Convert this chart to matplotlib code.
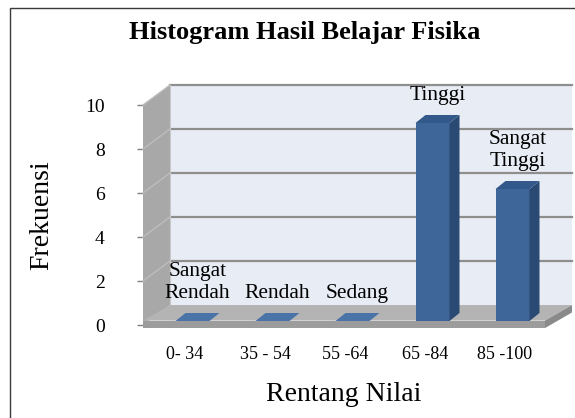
import numpy as np
import matplotlib
matplotlib.use('Agg')
import matplotlib.pyplot as plt
from matplotlib.patches import Polygon, Rectangle

categories = ['0- 34', '35 - 54', '55 -64', '65 -84', '85 -100']
frekuensi = [0, 0, 0, 9, 6]
kategori = ['Sangat\nRendah', 'Rendah', 'Sedang', 'Tinggi', 'Sangat\nTinggi']
yticks = [0, 2, 4, 6, 8, 10]

plt.rcParams['font.family'] = ['Liberation Serif', 'DejaVu Serif']

W, H = 575, 418
fig = plt.figure(figsize=(W/100., H/100.), dpi=100)
fig.patch.set_facecolor('white')

# front plane of the 3d box, in pixels
x0px, x1px, y0px, y1px = 143., 545., 325., 105.
ax = fig.add_axes([x0px/W, 1-y0px/H, (x1px-x0px)/W, (y0px-y1px)/H])
xl, xr = -0.525, 4.5
ymax = 10
ax.set_xlim(xl, xr); ax.set_ylim(0, ymax)
ax.patch.set_visible(False)
for s in ax.spines.values():
    s.set_visible(False)

pxx = (x1px-x0px)/(xr-xl)   # px per category
pxy = (y0px-y1px)/ymax      # px per unit
DX, DY = 27/pxx, 20/pxy     # wall depth
bdx0, bdy0 = 7.5/pxx, 4/pxy # bar front plane offset
bdx, bdy = 10/pxx, 8/pxy    # bar depth
bw = 34/pxx

def poly(pts, fc, z, ec='none', lw=0):
    ax.add_patch(Polygon(pts, closed=True, fc=fc, ec=ec, lw=lw, zorder=z, clip_on=False))

# back wall + grid
poly([(xl+DX, DY), (xr+DX, DY), (xr+DX, ymax+DY), (xl+DX, ymax+DY)], '#E8ECF5', 1)
for y in yticks[1:]:
    ax.plot([xl+DX, xr+DX], [y+DY, y+DY], color='#8E8E8E', lw=1.6, zorder=2, clip_on=False)
# side wall + grid
poly([(xl, 0), (xl, ymax), (xl+DX, ymax+DY), (xl+DX, DY)], '#A8A8A8', 3)
for y in yticks[1:]:
    ax.plot([xl, xl+DX], [y, y+DY], color='#BDBDBD', lw=1.0, zorder=4, clip_on=False)
ax.plot([xl+DX, xl+DX], [DY, ymax+DY], color='#C8C8C8', lw=0.8, zorder=4, clip_on=False)
# floor
ft, fb = 0.2, -0.14
poly([(xl, ft), (xr, ft), (xr+DX, DY), (xl+DX, DY)], '#B4B4B4', 5)
poly([(xl, fb), (xr, fb), (xr, ft), (xl, ft)], '#9C9C9C', 5)
poly([(xr, fb), (xr+DX, DY-(ft-fb)), (xr+DX, DY), (xr, ft)], '#8A8A8A', 5)

# bars
for i, v in enumerate(frekuensi):
    cx = i + bdx0
    b = bdy0
    left, right = cx-bw/2, cx+bw/2
    if v > 0:
        poly([(left, b), (right, b), (right, b+v), (left, b+v)], '#3E6699', 6)
        poly([(right, b), (right+bdx, b+bdy), (right+bdx, b+v+bdy), (right, b+v)], '#2A4A73', 6)
    poly([(left, b+v), (right, b+v), (right+bdx, b+v+bdy), (left+bdx, b+v+bdy)], '#33598A' if v > 0 else '#4A74A8', 7)
    ax.annotate(kategori[i], xy=(cx+bdx/2, b+v), xytext=(0, 13), textcoords='offset points',
                ha='center', va='bottom', fontsize=15.5, zorder=8, annotation_clip=False)

ax.set_yticks(yticks)
ax.set_xticks(range(len(categories)))
ax.set_xticklabels(categories)
ax.tick_params(axis='y', length=4.5, width=1, color='#808080', pad=23, labelsize=14)
ax.tick_params(axis='x', length=0, pad=15, labelsize=13)
ax.set_xlabel('Rentang Nilai', fontsize=20, labelpad=14)
ax.set_ylabel('Frekuensi', fontsize=20, labelpad=22)

fig.text(305/W, 1-33/H, 'Histogram Hasil Belajar Fisika', fontsize=19, fontweight='bold',
         ha='center', va='center')

# chart frame
fig.patches.append(Rectangle((9.5/W, -0.2), 1.2, 1.2-7.5/H, transform=fig.transFigure,
                             fill=False, ec='#3A3A3A', lw=1.0, zorder=0))

fig.savefig('out.png', dpi=100)
